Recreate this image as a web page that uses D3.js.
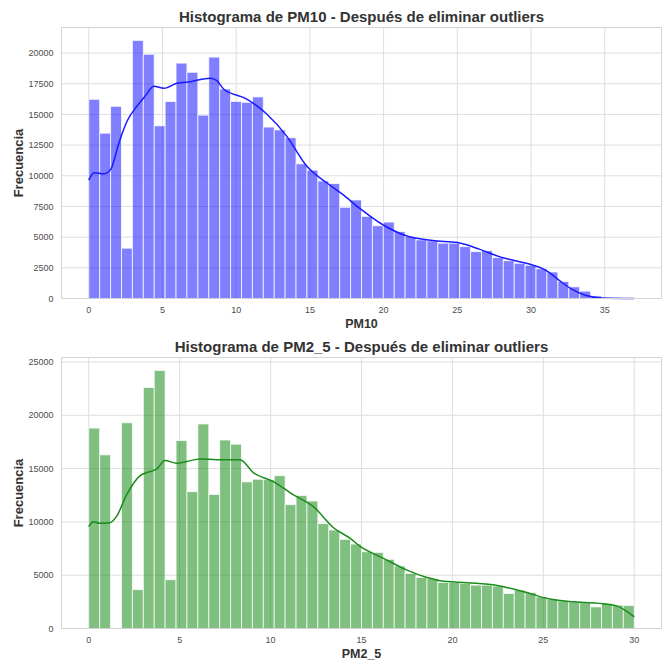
<!DOCTYPE html>
<html>
<head>
<meta charset="utf-8">
<script src="https://cdn.jsdelivr.net/npm/d3@7"></script>
<style>
  body { margin: 0; background: #fff; }
  text { font-family: "Liberation Sans", Arial, sans-serif; }
</style>
</head>
<body>
<div id="chart"></div>
<script>
// counts per bin (50 bins, starting at 0)
const pm10BinWidth = 0.74;
const pm10Counts = [16230, 13470, 15660, 4100, 21030, 19900, 14070, 16050, 19180, 18430,
  14940, 19670, 17070, 16060, 15980, 16430, 13970, 13740, 13100, 10970,
  10460, 9580, 9370, 7430, 8030, 6690, 5930, 6230, 5460, 5050,
  4780, 4700, 4510, 4510, 4230, 3820, 3900, 3330, 3080, 2870,
  2710, 2430, 2160, 1390, 950, 600, 210, 60, 25, 10];
const pm10KdeX = [0, 0.36, 1.03, 1.49, 2.05, 2.61, 3.29, 3.85, 4.41, 5.1, 5.99, 6.89, 8.24, 8.69,
  9.14, 10.72, 12.07, 13.41, 14.78, 16.13, 17.2, 18.38, 19.95, 21.53, 23.33, 25.02, 26.49,
  27.84, 30.09, 30.99, 31.89, 32.79, 33.68, 34.8, 37];
const pm10KdeY = [9640, 10250, 10160, 10520, 12700, 14480, 15700, 16530, 17300, 17130, 17540, 17670, 17950, 17750,
  17070, 16250, 15030, 13250, 10790, 9430, 8500, 7350, 6010, 5110, 4720, 4560, 4020,
  3410, 2730, 2320, 1500, 740, 270, 50, 0];

const pm25BinWidth = 0.6;
const pm25Counts = [18800, 16290, 0, 19300, 3650, 22610, 24210, 4580, 17630, 12840,
  19190, 12580, 17680, 17290, 13760, 14000, 13970, 14330, 11620, 12480,
  11960, 9840, 9240, 8360, 7920, 7200, 7140, 6490, 5860, 5170,
  4790, 4700, 4320, 4320, 4230, 4070, 4070, 3980, 3290, 3600,
  3380, 2970, 2730, 2590, 2500, 2410, 2030, 2350, 2190, 2160];
const pm25KdeX = [0, 0.24, 0.61, 1.16, 1.52, 2.08, 2.81, 3.18, 3.73, 4.19, 4.83, 5.38, 6.12, 7.04,
  8.32, 9.05, 10.15, 11.26, 12.36, 13.46, 14.38, 14.93, 16.21, 17.5, 18.6, 19.34, 20.81,
  22.46, 23.93, 25.22, 26.68, 28.52, 29.07, 29.63, 30];
const pm25KdeY = [9550, 10020, 9870, 9930, 10490, 12530, 14310, 14620, 14940, 15750, 15510, 15660, 15910, 15820,
  15820, 14620, 13780, 12530, 11430, 9450, 8450, 7700, 6580, 5480, 4790, 4470, 4290,
  4040, 3440, 2820, 2500, 2280, 2100, 1560, 1090];

const pm10XTicks = [0, 5, 10, 15, 20, 25, 30, 35];
const pm10YTicks = [0, 2500, 5000, 7500, 10000, 12500, 15000, 17500, 20000];
const pm25XTicks = [0, 5, 10, 15, 20, 25, 30];
const pm25YTicks = [0, 5000, 10000, 15000, 20000, 25000];

const width = 665, height = 660;
const gridColor = "#dedede";

const svg = d3.select("#chart").append("svg")
  .attr("width", width)
  .attr("height", height);

function drawHist(o) {
  const g = svg.append("g");
  const span = o.counts.length * o.binWidth;
  const pad = span * 0.05;

  const x = d3.scaleLinear().domain([-pad, span + pad]).range([o.left, o.right]);
  const yMax = d3.max(o.counts) * 1.05;
  const y = d3.scaleLinear().domain([0, yMax]).range([o.bottom, o.top]);

  // grid
  g.selectAll(".gx").data(o.xTicks).enter().append("line")
    .attr("x1", d => x(d)).attr("x2", d => x(d))
    .attr("y1", o.top).attr("y2", o.bottom)
    .attr("stroke", gridColor).attr("stroke-width", 1);
  g.selectAll(".gy").data(o.yTicks).enter().append("line")
    .attr("x1", o.left).attr("x2", o.right)
    .attr("y1", d => y(d)).attr("y2", d => y(d))
    .attr("stroke", gridColor).attr("stroke-width", 1);

  // bars
  g.selectAll(".bar").data(o.counts).enter().append("rect")
    .attr("x", (d, i) => x(i * o.binWidth))
    .attr("width", x(o.binWidth) - x(0))
    .attr("y", d => y(d))
    .attr("height", d => y(0) - y(d))
    .attr("fill", o.color)
    .attr("fill-opacity", 0.5)
    .attr("stroke", "#fff")
    .attr("stroke-opacity", 0.75)
    .attr("stroke-width", 1);

  // kde line
  const line = d3.line()
    .x(d => x(d[0]))
    .y(d => y(d[1]))
    .curve(d3.curveMonotoneX);
  g.append("path")
    .datum(d3.zip(o.kdeX, o.kdeY))
    .attr("d", line)
    .attr("fill", "none")
    .attr("stroke", o.lineColor)
    .attr("stroke-width", 1.5);

  // frame
  g.append("rect")
    .attr("x", o.left).attr("y", o.top)
    .attr("width", o.right - o.left).attr("height", o.bottom - o.top)
    .attr("fill", "none").attr("stroke", "#d4d4d4").attr("stroke-width", 1);

  // tick labels
  g.selectAll(".tx").data(o.xTicks).enter().append("text")
    .attr("x", d => x(d)).attr("y", o.bottom + 14.5)
    .attr("text-anchor", "middle")
    .attr("font-size", "9px").attr("fill", "#4d4d4d")
    .text(d => d);
  g.selectAll(".ty").data(o.yTicks).enter().append("text")
    .attr("x", o.left - 8).attr("y", d => y(d) + 3.2)
    .attr("text-anchor", "end")
    .attr("font-size", "9px").attr("fill", "#4d4d4d")
    .text(d => d);

  // titles
  g.append("text")
    .attr("x", (o.left + o.right) / 2).attr("y", o.top - 6)
    .attr("text-anchor", "middle")
    .attr("font-size", "15px").attr("font-weight", "bold").attr("fill", "#333")
    .text(o.title);
  g.append("text")
    .attr("x", (o.left + o.right) / 2).attr("y", o.bottom + 29)
    .attr("text-anchor", "middle")
    .attr("font-size", "12.5px").attr("font-weight", "bold").attr("fill", "#333")
    .text(o.xLabel);
  g.append("text")
    .attr("transform", `translate(23,${(o.top + o.bottom) / 2}) rotate(-90)`)
    .attr("text-anchor", "middle")
    .attr("font-size", "13px").attr("font-weight", "bold").attr("fill", "#333")
    .text("Frecuencia");
}

drawHist({
  counts: pm10Counts, binWidth: pm10BinWidth,
  kdeX: pm10KdeX, kdeY: pm10KdeY,
  xTicks: pm10XTicks, yTicks: pm10YTicks,
  color: "blue", lineColor: "#1a1aff",
  left: 61.5, right: 661.5, top: 27.5, bottom: 298.5,
  title: "Histograma de PM10 - Después de eliminar outliers",
  xLabel: "PM10"
});

drawHist({
  counts: pm25Counts, binWidth: pm25BinWidth,
  kdeX: pm25KdeX, kdeY: pm25KdeY,
  xTicks: pm25XTicks, yTicks: pm25YTicks,
  color: "green", lineColor: "#1a8c1a",
  left: 61.5, right: 661.5, top: 357.5, bottom: 628.5,
  title: "Histograma de PM2_5 - Después de eliminar outliers",
  xLabel: "PM2_5"
});
</script>
</body>
</html>
